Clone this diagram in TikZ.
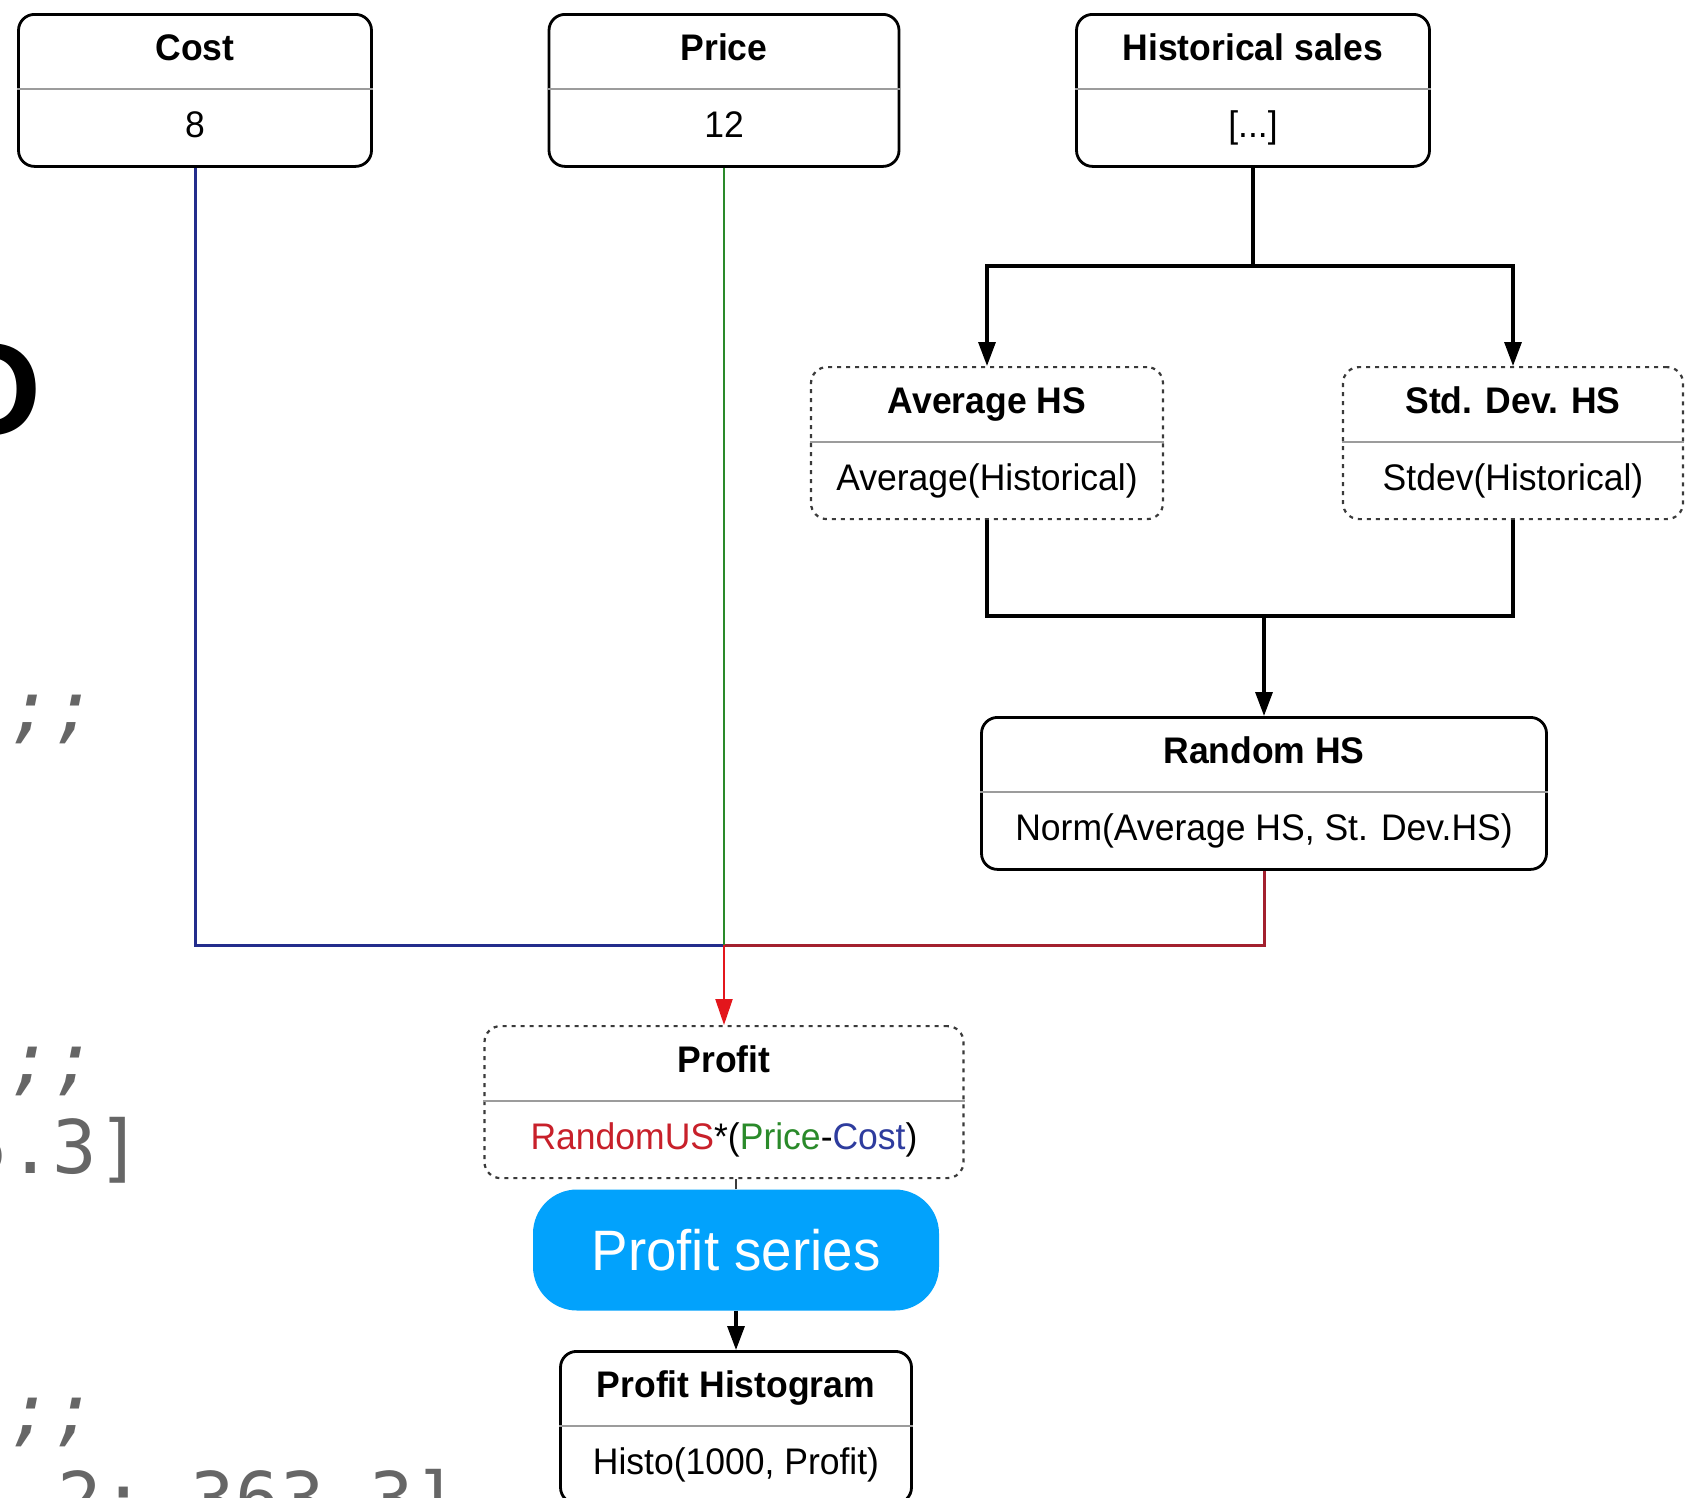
\documentclass[tikz,border=0pt]{standalone}
\usepackage{fontspec}
\setmainfont[FakeStretch=0.96]{Liberation Sans}
\newfontfamily\codefont{DejaVu Sans Mono}
\newfontfamily\letterfont{Liberation Sans}
\usepackage{xcolor}
\definecolor{costBlue}{HTML}{232D8C}
\definecolor{priceGreen}{HTML}{2A8A2A}
\definecolor{randomRed}{HTML}{A3202F}
\definecolor{arrowRed}{HTML}{E3161C}
\definecolor{seriesBlue}{HTML}{02A2FC}
\definecolor{dividerGray}{HTML}{9C9C9C}
\definecolor{borderGray}{HTML}{3A3A3A}
\definecolor{codeGray}{HTML}{666666}
\definecolor{textRed}{HTML}{C8202A}
\definecolor{textGreen}{HTML}{2A8A2A}
\definecolor{textBlue}{HTML}{2E3C9E}
\usetikzlibrary{arrows.meta}
\tikzset{
    % Record box with a solid border
    solid box/.style={
        draw=black,
        line width=2.8pt,
        rounded corners=16pt,
        minimum height=152pt,
        inner sep=0pt,
        anchor=north,
    },
    % Record box with a dotted border
    dotted box/.style={
        solid box,
        draw=borderGray,
        line width=2.2pt,
        dash pattern=on 4pt off 5pt,
    },
    % Texts inside the records
    field title/.style={
        font=\fontsize{37}{44}\selectfont\bfseries,
        anchor=base,
        inner sep=0pt,
    },
    field body/.style={
        font=\fontsize{37}{44}\selectfont,
        anchor=base,
        inner sep=0pt,
    },
    divider/.style={draw=dividerGray, line width=2.2pt},
    % Blue call-out box
    series box/.style={
        fill=seriesBlue,
        rounded corners=44pt,
        minimum width=406pt,
        minimum height=121pt,
        text=white,
        font=\fontsize{57}{64}\selectfont,
    },
    % Connectors
    link/.style={draw=black, line width=3.2pt},
    arrow/.style={link, -{Triangle[length=24pt, width=17pt]}},
    blue link/.style={draw=costBlue, line width=3pt},
    green link/.style={draw=priceGreen, line width=2pt},
    red link/.style={draw=randomRed, line width=3pt},
    red arrow/.style={draw=arrowRed, line width=2.2pt,
        -{Triangle[length=26pt, width=17pt]}},
    stub/.style={draw=borderGray, line width=1.5pt},
    % Left-over code from the slide behind
    code line/.style={
        font=\codefont\fontsize{74}{80}\selectfont,
        text=codeGray,
        anchor=base west,
        inner sep=0pt,
    },
}
% #1 name, #2 style, #3 x, #4 top, #5 width, #6 title, #7 body
\newcommand{\recordbox}[7]{%
    \node[#2, minimum width=#5pt] (#1) at (#3,#4) {};
    \node[field title] (#1 title) at ([yshift=-47pt]#1.north) {#6};
    \draw[divider] ([yshift=-76pt]#1.north west) -- ([yshift=-76pt]#1.north east);
    \node[field body] (#1 body) at ([yshift=-124pt]#1.north) {#7};
}

\begin{document}
\begin{tikzpicture}[x=1pt, y=-1pt]
    \fill[white] (0,0) rectangle (1686,1497);
    \useasboundingbox (0,0) rectangle (1686,1497);
    \clip (0,0) rectangle (1686,1497);

    % code fragments on the left
    \node[anchor=base, inner sep=0pt,
        font={\letterfont\bfseries\fontsize{130}{132}\selectfont}] (bigO) at (-9,434) {O};
    \node[code line, font=\codefont\itshape\fontsize{74}{80}\selectfont] (semi1) at (8,733) {;;};
    \node[code line, font=\codefont\itshape\fontsize{74}{80}\selectfont] (semi2) at (8,1085) {;;};
    \node[code line] (vec1) at (-36.5,1173) {5.3]};
    \node[code line, font=\codefont\itshape\fontsize{74}{80}\selectfont] (semi3) at (8,1436) {;;};
    \node[code line] (vec2) at (-32,1525) {1 2; 363.3]};

    % records
    \recordbox{cost}{solid box}{195}{13}{353}{Cost}{8}
    \recordbox{price}{solid box}{724}{13}{350}{Price}{12}
    \recordbox{hist}{solid box}{1253}{13}{353}{Historical sales}{[...]}
    \recordbox{avg}{dotted box}{987}{366}{352}{Average HS}{Average(Historical)}
    \recordbox{std}{dotted box}{1513}{366}{340}{Std. Dev. HS}{Stdev(Historical)}
    \recordbox{random}{solid box}{1264}{716}{565}{Random HS}{Norm(Average HS, St. Dev.HS)}
    \recordbox{profit}{dotted box}{724}{1025}{479}{Profit}{%
        \textcolor{textRed}{RandomUS}*(\textcolor{textGreen}{Price}-\textcolor{textBlue}{Cost})}
    \node[series box] (series) at (736,1250) {Profit series};
    \recordbox{histo}{solid box}{736}{1350}{351}{Profit Histogram}{Histo(1000, Profit)}

    \coordinate (hsplit) at (1253,266);
    \coordinate (hmerge) at (1264,616);
    \coordinate (join) at (724,945);

    \draw [link] (hist.south) -- (hsplit);
    \draw [arrow] (hsplit) -| (avg.north);
    \draw [arrow] (hsplit) -| (std.north);
    \draw [link] (avg.south) |- (hmerge) -| (std.south);
    \draw [arrow] (hmerge) -- (random.north);
    \draw [blue link] (cost.south) |- (join);
    \draw [red link] (random.south) |- (join);
    \draw [green link] (price.south) -- (join);
    \draw [red arrow] (join) -- (profit.north);
    \draw [stub] (series.north) -- (series.north |- profit.south);
    \draw [arrow] (series.south) -- (histo.north);
\end{tikzpicture}
\end{document}
